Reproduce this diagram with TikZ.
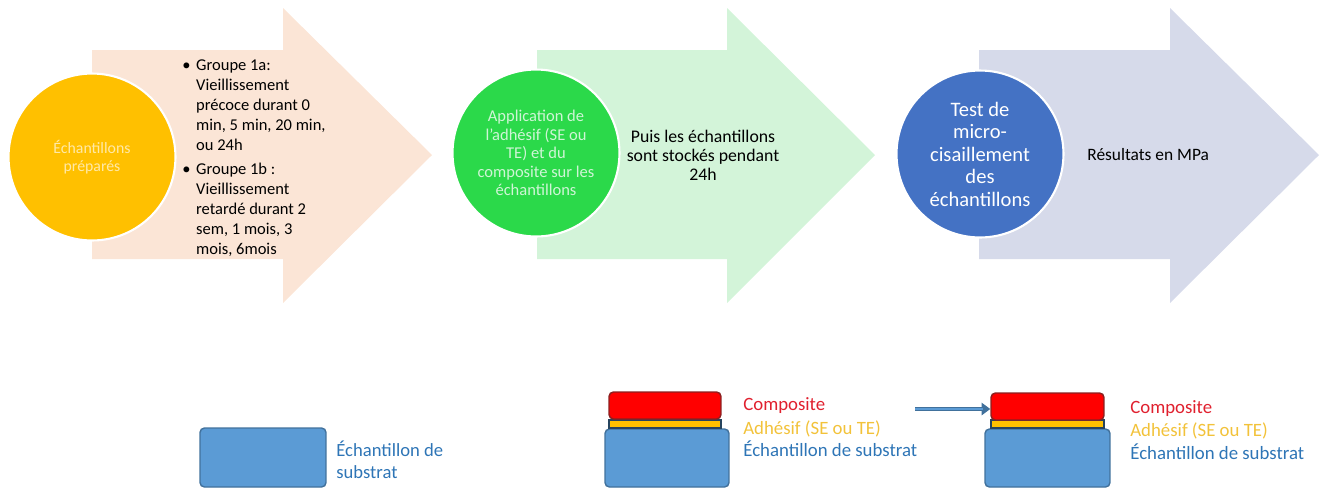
\documentclass[tikz,border=0pt]{standalone}
\usepackage{fontspec}
\setmainfont{Carlito}
\usetikzlibrary{arrows.meta}
\definecolor{peach}{HTML}{FBE5D6}
\definecolor{mint}{HTML}{D3F4D9}
\definecolor{lav}{HTML}{D6DAEA}
\definecolor{gold}{HTML}{FFC000}
\definecolor{vgreen}{HTML}{2BD94A}
\definecolor{cblue}{HTML}{4472C4}
\definecolor{subfill}{HTML}{5B9BD5}
\definecolor{subline}{HTML}{41719C}
\definecolor{redfill}{HTML}{FF0000}
\definecolor{redline}{HTML}{8B2020}
\definecolor{txtred}{HTML}{E0202E}
\definecolor{txtgold}{HTML}{F2C23A}
\definecolor{txtblue}{HTML}{2E75B6}
\definecolor{lightyel}{HTML}{FFE9A8}
\definecolor{lightgrn}{HTML}{CFF5D6}
\tikzset{
  stepcircle/.style={circle, draw=white, line width=1.2pt, minimum size=3.34cm, inner sep=0pt, align=center},
  bodytext/.style={inner sep=0pt, text=black},
  layer/.style={rectangle, rounded corners=2.5pt, inner sep=0pt, line width=0.8pt},
  legend/.style={inner sep=0pt, anchor=base west, font=\fontsize{10.7}{13}\selectfont}
}
\begin{document}
\begin{tikzpicture}[x=0.02cm,y=-0.02cm]
\useasboundingbox (0,0) rectangle (1330,488);
\clip (0,0) rectangle (1330,488);
% big arrows
\fill[peach] (92,50) -- (283,50) -- (283,8) -- (432,155) -- (283,303) -- (283,259) -- (92,259) -- cycle;
\fill[mint] (537,50) -- (727,50) -- (727,8) -- (875,155) -- (727,303) -- (727,259) -- (537,259) -- cycle;
\fill[lav] (979,50) -- (1170,50) -- (1170,8) -- (1319,155) -- (1170,303) -- (1170,259) -- (979,259) -- cycle;
% circles
\node[stepcircle, fill=gold, text=lightyel, font=\fontsize{9}{10.2}\selectfont] (c1) at (92,157) {Échantillons\\préparés};
\node[stepcircle, fill=vgreen, text=lightgrn, font=\fontsize{9.4}{10.5}\selectfont] (c2) at (536,153) {Application de\\l’adhésif (SE ou\\TE) et du\\composite sur les\\échantillons};
\node[stepcircle, fill=cblue, text=white, font=\fontsize{11.7}{12.8}\selectfont] (c3) at (980,154) {Test de\\micro-\\cisaillement\\des\\échantillons};
% arrow texts
\node[bodytext, anchor=base west, font=\fontsize{9.4}{11.4}\selectfont] (t1) at (182,70) {%
\begin{tabular}[t]{@{}l@{\hspace{3.2pt}}l@{}}
\textbullet & Groupe 1a:\\
 & Vieillissement\\
 & précoce durant 0\\
 & min, 5 min, 20 min,\\
 & ou 24h\\[2.3pt]
\textbullet & Groupe 1b :\\
 & Vieillissement\\
 & retardé durant 2\\
 & sem, 1 mois, 3\\
 & mois, 6mois
\end{tabular}};
\node[bodytext, align=center, font=\fontsize{10.1}{10.9}\selectfont] (t2) at (703,155) {Puis les échantillons\\sont stockés pendant\\24h};
\node[bodytext, anchor=base west, font=\fontsize{9.9}{12}\selectfont] (t3) at (1087,160) {Résultats en MPa};
% bottom: block 1
\node[layer, fill=subfill, draw=subline, minimum width=2.52cm, minimum height=1.18cm] (s1) at (263,457.5) {};
\node[legend, text=txtblue, align=left, font=\fontsize{10.6}{12.5}\selectfont] (l1) at (336,478) {Échantillon de\\substrat};
% block 2
\node[layer, fill=subfill, draw=subline, minimum width=2.48cm, minimum height=1.16cm] (s2) at (667,458) {};
\node[layer, rounded corners=0pt, fill=gold, draw=subline!60!black, minimum width=2.24cm, minimum height=0.16cm] (a2) at (665,424) {};
\node[layer, fill=redfill, draw=redline, minimum width=2.24cm, minimum height=0.54cm] (r2) at (665,405.5) {};
\node[legend, text=txtred] (lc2) at (743,410) {Composite};
\node[legend, text=txtgold] (la2) at (743,434) {Adhésif (SE ou TE)};
\node[legend, text=txtblue] (ls2) at (743,456) {Échantillon de substrat};
% block 3
\node[layer, fill=subfill, draw=subline, minimum width=2.5cm, minimum height=1.16cm] (s3) at (1047.5,458) {};
\node[layer, rounded corners=0pt, fill=gold, draw=subline!60!black, minimum width=2.26cm, minimum height=0.16cm] (a3) at (1047.5,424) {};
\node[layer, fill=redfill, draw=redline, minimum width=2.26cm, minimum height=0.54cm] (r3) at (1047.5,406.5) {};
\node[legend, text=txtred] (lc3) at (1130,413) {Composite};
\node[legend, text=txtgold] (la3) at (1130,436) {Adhésif (SE ou TE)};
\node[legend, text=txtblue] (ls3) at (1130,459) {Échantillon de substrat};
% connector
\coordinate (from) at (915,409);
\draw[subline, line width=2.6pt, -{Triangle[length=5pt,width=7pt]}] (from) -- (r3.west |- from);
\draw[subfill, line width=1.2pt, shorten >=4pt] (from) -- (r3.west |- from);
\end{tikzpicture}
\end{document}
